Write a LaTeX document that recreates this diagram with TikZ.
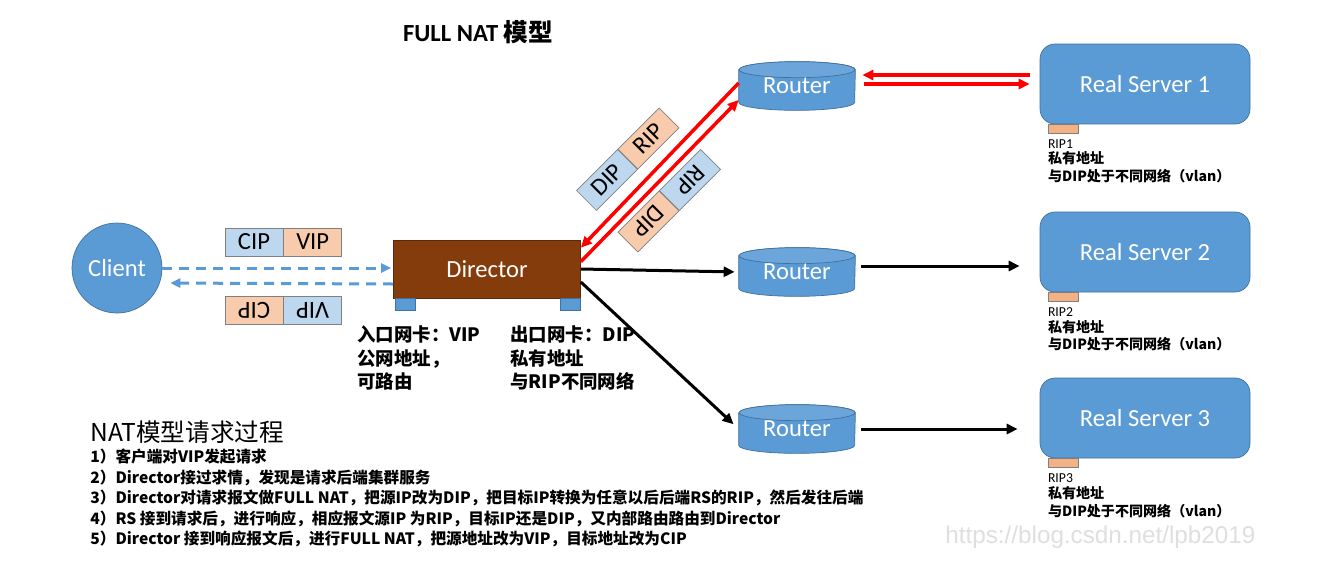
\documentclass[tikz,border=0pt]{standalone}
\usepackage{fontspec}
\setmainfont{Carlito}
\newfontfamily\cjk{Noto Sans CJK SC}
\newfontfamily\wmfont{Liberation Sans}
\usetikzlibrary{positioning,arrows.meta,backgrounds,calc}
\definecolor{nodeblue}{HTML}{5B9BD5}
\definecolor{edgeblue}{HTML}{41719C}
\definecolor{dirbrown}{HTML}{843C0C}
\definecolor{pktblue}{HTML}{BDD7EE}
\definecolor{pktpeach}{HTML}{F8CBAD}
\definecolor{ripbox}{HTML}{F4B183}

\begin{document}
\begin{tikzpicture}[x=0.02cm, y=-0.02cm,
  every node/.style={font=\fontsize{14}{16}\selectfont},
  client/.style={circle, fill=nodeblue, draw=edgeblue, minimum size=1.8cm, text=white},
  director/.style={rectangle, fill=dirbrown, draw=dirbrown!70!black, minimum width=3.74cm, minimum height=1.16cm, text=white},
  router/.style={minimum width=2.32cm, minimum height=0.96cm, text=white, inner sep=0pt},
  server/.style={rectangle, rounded corners=0.3cm, fill=nodeblue, draw=edgeblue, minimum width=4.2cm, minimum height=1.6cm, text=white},
  nic/.style={rectangle, fill=nodeblue, draw=edgeblue, minimum width=0.4cm, minimum height=0.24cm, inner sep=0pt},
  ripnic/.style={rectangle, fill=ripbox, draw=gray, minimum width=0.6cm, minimum height=0.18cm, inner sep=0pt},
  pkb/.style={rectangle, fill=pktblue, draw=gray, minimum width=1.16cm, minimum height=0.56cm, inner sep=0pt},
  pko/.style={pkb, fill=pktpeach},
  redarr/.style={-{Triangle[length=0.22cm,width=0.2cm]}, red, line width=0.07cm},
  blkarr/.style={-{Triangle[length=0.22cm,width=0.2cm]}, black, line width=0.06cm},
  dasharr/.style={-{Triangle[length=0.2cm,width=0.18cm]}, nodeblue, line width=0.06cm, dash pattern=on 0.2cm off 0.14cm},
  note/.style={font=\cjk\bfseries\fontsize{10.5}{13.6}\selectfont, align=left, inner sep=0pt, anchor=north west},
  ripname/.style={font=\fontsize{7.8}{9}\selectfont, inner sep=0pt, anchor=north west},
  rsnote/.style={font=\cjk\bfseries\fontsize{8}{10.2}\selectfont, align=left, inner sep=0pt, anchor=north west}
]
  \useasboundingbox (0,0) rectangle (1327,562);

  \node (title) at (478,32) {\bfseries FULL NAT {\cjk 模型}};

  % main nodes
  \node[client] (client) at (117,268) {Client};
  \node[director] (dir) at (487,269) {Director};
  \node[nic, anchor=north west] (nicin) at ([xshift=0.04cm]dir.south west) {};
  \node[nic, anchor=north east] (nicout) at (dir.south east) {};

  \node[router] (r1) at (797,86) {\raisebox{-0.06cm}{Router}};
  \node[router] (r2) at (797,272) {\raisebox{-0.06cm}{Router}};
  \node[router] (r3) at (797,429) {\raisebox{-0.06cm}{Router}};

  \node[server] (rs1) at (1145,84) {Real Server 1};
  \node[server] (rs2) at (1145,252) {Real Server 2};
  \node[server] (rs3) at (1145,418) {Real Server 3};

  % router cylinders
  \begin{scope}[on background layer]
    \fill[white] (0,0) rectangle (1327,562);
    \foreach \r in {r1,r2,r3} {
      \filldraw[fill=nodeblue, draw=edgeblue] ([yshift=-0.16cm]\r.north west) -- ([yshift=0.16cm]\r.south west)
        arc[start angle=180, end angle=360, x radius=1.16cm, y radius=0.16cm]
        -- ([yshift=-0.16cm]\r.north east)
        arc[start angle=0, end angle=180, x radius=1.16cm, y radius=0.16cm] -- cycle;
      \filldraw[fill=nodeblue!90!white, draw=edgeblue] ([yshift=-0.16cm]\r.north) ellipse[x radius=1.16cm, y radius=0.16cm];
    }
  \end{scope}

  % real server ports and notes
  \foreach \i in {1,2,3} {
    \node[ripnic, anchor=north west] (rip\i) at ([xshift=0.16cm]rs\i.south west) {};
    \node[ripname] (rn\i) at ([yshift=-0.1cm]rip\i.south west) {RIP\i};
    \node[rsnote] (rsn\i) at ([yshift=-0.06cm]rn\i.south west) {私有地址\\与DIP处于不同网络（vlan）};
  }

  % packets
  \node[pkb] (cip1) at (254,242) {CIP};
  \node[pko, right=0pt of cip1] (vip1) {VIP};
  \node[pko, rotate=180] (cip2) at (254,310) {CIP};
  \node[pkb, rotate=180, anchor=east] (vip2) at (cip2.west) {VIP};
  \node[pkb, rotate=45] (dip3) at (607,180) {DIP};
  \node[pko, rotate=45, anchor=west] (rip3) at (dip3.east) {RIP};
  \node[pkb, rotate=225] (rip4) at (690,180) {RIP};
  \node[pko, rotate=225, anchor=west] (dip4) at (rip4.east) {DIP};

  % director notes
  \node[note] (inlab) at (357,325) {入口网卡：VIP\\公网地址，\\可路由};
  \node[note] (outlab) at (510,325) {出口网卡：DIP\\私有地址\\与RIP不同网络};

  % connectors
  \draw[dasharr, shorten >=0.04cm] (client.east) -- (client.east -| dir.west);
  \draw[dasharr, shorten >=0.16cm] ([yshift=-0.3cm]dir.west) -- ([yshift=-0.3cm]client.east);

  \draw[redarr] ([yshift=0.06cm]r1.west) -- ([yshift=-0.16cm]dir.north east);
  \draw[redarr] ([yshift=-0.44cm]dir.north east) -- ([yshift=-0.28cm]r1.west);
  \draw[redarr, shorten <=0.2cm, shorten >=0.14cm] ($(rs1.west)+(0,-9)$) -- ($(r1.east)+(0,-11)$);
  \draw[redarr, shorten <=0.18cm, shorten >=0.2cm] ($(r1.east)+(0,-2)$) -- (rs1.west);

  \coordinate (r2o) at ($(r2.east)+(0,-6)$);
  \draw[blkarr, shorten >=0.08cm] (dir.east) -- (r2.west);
  \draw[blkarr, shorten >=0.14cm] ([yshift=-0.26cm]dir.east) -- (r3.west);
  \draw[blkarr, shorten <=0.12cm, shorten >=0.4cm] (r2o) -- (r2o -| rs2.west);
  \draw[blkarr, shorten <=0.12cm, shorten >=0.44cm] (r3.east) -- (r3.east -| rs3.west);

  % process text
  \node[font=\cjk\fontsize{14}{16}\selectfont, anchor=west, inner sep=0pt] (proc) at (90,432) {NAT模型请求过程};
  \node[note, font=\cjk\bfseries\fontsize{8.9}{11.6}\selectfont] (steps) at (90,449) {1）客户端对VIP发起请求\\
    2）Director接过求情，发现是请求后端集群服务\\
    3）Director对请求报文做FULL NAT，把源IP改为DIP，把目标IP转换为任意以后后端RS的RIP，然后发往后端\\
    4）RS 接到请求后，进行响应，相应报文源IP 为RIP，目标IP还是DIP，又内部路由路由到Director\\
    5）Director 接到响应报文后，进行FULL NAT，把源地址改为VIP，目标地址改为CIP};

  \node[font=\wmfont\fontsize{13.8}{16}\selectfont, text=gray!25, anchor=west, inner sep=0pt] (wm) at (945,537) {https://blog.csdn.net/lpb2019};
\end{tikzpicture}
\end{document}
